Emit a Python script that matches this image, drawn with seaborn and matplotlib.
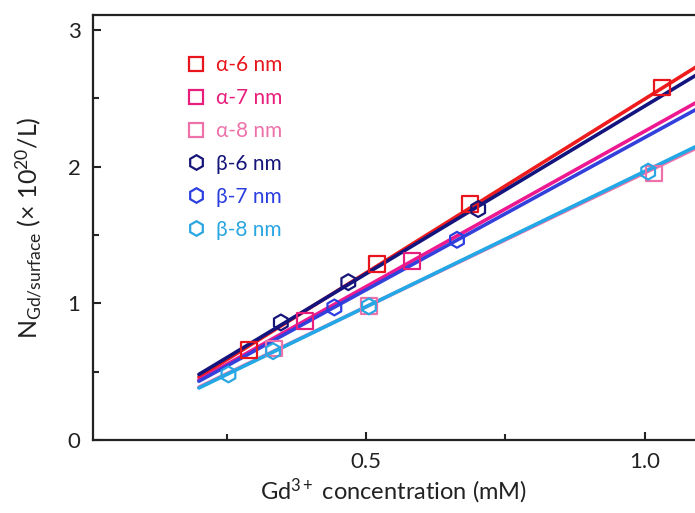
import matplotlib
matplotlib.use("Agg")
import matplotlib.pyplot as plt
from matplotlib.lines import Line2D
from matplotlib.ticker import MultipleLocator
import numpy as np
import pandas as pd
import seaborn as sns

# series
names = ['α-6 nm', 'α-7 nm', 'α-8 nm', 'β-6 nm', 'β-7 nm', 'β-8 nm']
colors = ['#e8151c', '#e81e7c', '#ee72aa', '#16157a', '#2b3ee0', '#2aa6e2']
line_colors = ['#ee1c1c', '#ee1890', '#ee72aa', '#14147e', '#3340dc', '#22a8e6']
markers = ['s', 's', 's', 'h', 'h', 'h']

a6_x = [0.29, 0.52, 0.686, 1.031]
a6_y = [0.66, 1.29, 1.73, 2.58]
a7_x = [0.391, 0.583]
a7_y = [0.87, 1.31]
a8_x = [0.335, 0.505, 1.016]
a8_y = [0.67, 0.98, 1.95]
b6_x = [0.347, 0.468, 0.701]
b6_y = [0.86, 1.155, 1.69]
b7_x = [0.443, 0.663]
b7_y = [0.97, 1.465]
b8_x = [0.253, 0.333, 0.505, 1.006]
b8_y = [0.48, 0.65, 0.978, 1.964]

# linear fits (slope, intercept) as drawn in the figure
slopes = [2.545, 2.275, 1.96, 2.455, 2.23, 1.982]
intercepts = [-0.049, -0.015, -0.005, -0.011, -0.016, -0.016]
fit_range = [0.2, 1.1]

xs = [a6_x, a7_x, a8_x, b6_x, b7_x, b8_x]
ys = [a6_y, a7_y, a8_y, b6_y, b7_y, b8_y]

sns.set_style("ticks")
plt.rcParams['font.family'] = ['Lato', 'DejaVu Sans']
plt.rcParams['mathtext.fontset'] = 'custom'
plt.rcParams['mathtext.rm'] = 'Lato'
plt.rcParams['mathtext.it'] = 'Lato:italic'

fig = plt.figure(figsize=(6.95, 5.13), dpi=100)
ax = fig.add_axes([93/695, 73/513, 602/695, 425/513])

# fit lines, pink alpha-8 hidden under cyan like the original
line_order = [2, 0, 3, 1, 4, 5]
for i in line_order:
    fx = np.array(fit_range)
    fy = slopes[i] * fx + intercepts[i]
    sns.lineplot(x=fx, y=fy, color=line_colors[i], lw=2.6, ax=ax, zorder=2)

for i in range(6):
    df = pd.DataFrame({'conc': xs[i], 'N': ys[i]})
    sns.scatterplot(data=df, x='conc', y='N', marker=markers[i], s=130,
                    facecolor='none', edgecolor=colors[i], linewidth=1.6,
                    ax=ax, zorder=3)

ax.set_xlim(0.01, 1.09)
ax.set_ylim(0, 3.11)
ax.set_xticks([0.5, 1.0])
ax.set_xticklabels(['0.5', '1.0'])
ax.xaxis.set_minor_locator(MultipleLocator(0.25))
ax.set_yticks([0, 1, 2, 3])
ax.yaxis.set_minor_locator(MultipleLocator(0.5))
ax.tick_params(which='major', direction='in', length=6, width=1.5,
               labelsize=16, colors='#222222', pad=9)
ax.tick_params(which='minor', direction='in', length=4, width=1.5)
ax.tick_params(axis='y', which='both', right=False)
ax.tick_params(axis='x', which='both', top=False)
for s in ['left', 'bottom', 'top']:
    ax.spines[s].set_linewidth(1.6)
    ax.spines[s].set_color('#222222')
ax.spines['right'].set_visible(False)

ax.set_xlabel('Gd$^{\\mathregular{3+}}$ concentration (mM)', fontsize=17,
              color='#222222', labelpad=3)
ax.set_ylabel('N$_{\\mathregular{Gd/surface}}$ (× 10$^{\\mathregular{20}}$/L)',
              fontsize=18, color='#222222', labelpad=17)

handles = [Line2D([], [], ls='none', marker=markers[i], markersize=10.5,
                  markerfacecolor='none', markeredgecolor=colors[i],
                  markeredgewidth=1.6) for i in range(6)]
leg = ax.legend(handles, names, loc='upper left', bbox_to_anchor=(0.122, 0.95),
                frameon=False, fontsize=15, labelspacing=0.62, handletextpad=0.5,
                handlelength=1.0)
for t, c in zip(leg.get_texts(), colors):
    t.set_color(c)

fig.savefig('out.png', dpi=100)
